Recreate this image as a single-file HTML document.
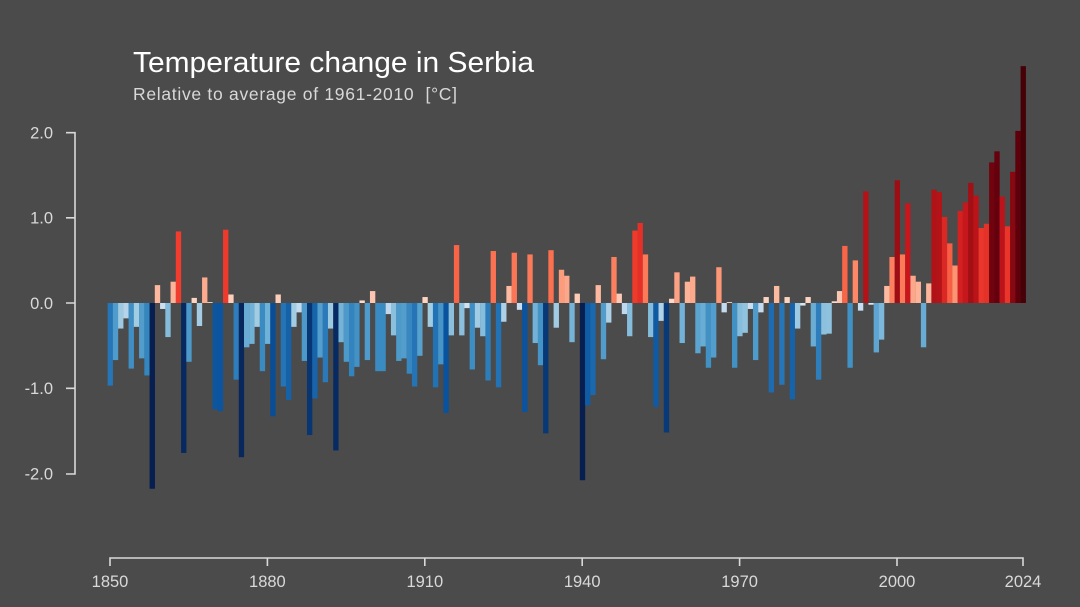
<!DOCTYPE html>
<html><head><meta charset="utf-8"><style>
html,body{margin:0;padding:0;background:#4b4b4b;}
svg{display:block;font-family:"Liberation Sans",sans-serif;}
</style></head><body>
<svg id="s" width="1080" height="607" viewBox="0 0 1080 607" xmlns="http://www.w3.org/2000/svg">
<rect width="1080" height="607" fill="#4b4b4b"/>
<text x="133" y="72" font-size="29" fill="#ffffff" textLength="401" lengthAdjust="spacingAndGlyphs">Temperature change in Serbia</text>
<text x="133" y="100" font-size="17.5" fill="#d8d8d8" textLength="324" lengthAdjust="spacing" xml:space="preserve">Relative to average of 1961-2010  [°C]</text>
<g id="bars"></g>
<g stroke="#d9d9d9" stroke-width="1.6" fill="none">
<path d="M66,132.7H75V474H66M66,217.8H75M66,303H75M66,388.3H75"/>
<path d="M110,566V558H1023V566M267.4,558V566M424.8,558V566M582.2,558V566M739.6,558V566M897,558V566"/>
</g>
<g font-size="16.5" fill="#d9d9d9" text-anchor="end">
<text x="53" y="138.5">2.0</text>
<text x="53" y="223.5">1.0</text>
<text x="53" y="309">0.0</text>
<text x="53" y="394">-1.0</text>
<text x="53" y="479.5">-2.0</text>
</g>
<g font-size="16.5" fill="#d9d9d9" text-anchor="middle">
<text x="110" y="587">1850</text>
<text x="267.4" y="587">1880</text>
<text x="424.8" y="587">1910</text>
<text x="582.2" y="587">1940</text>
<text x="739.6" y="587">1970</text>
<text x="897" y="587">2000</text>
<text x="1023" y="587">2024</text>
</g>
</svg>
<script>
var v=[-0.97,-0.67,-0.30,-0.18,-0.77,-0.28,-0.65,-0.85,-2.18,0.21,-0.07,-0.40,0.25,0.84,-1.76,-0.69,0.06,-0.27,0.30,0.01,-1.25,-1.27,0.86,0.10,-0.90,-1.81,-0.52,-0.48,-0.28,-0.80,-0.48,-1.33,0.10,-0.98,
-1.14,-0.28,-0.11,-0.68,-1.55,-1.12,-0.64,-0.93,-0.30,-1.73,-0.46,-0.69,-0.86,-0.75,0.03,-0.67,0.14,-0.80,-0.80,-0.13,-0.38,-0.68,-0.65,-0.83,-0.98,-0.62,0.07,-0.28,-0.99,-0.72,-1.29,-0.38,
0.68,-0.38,-0.06,-0.78,-0.29,-0.39,-0.91,0.61,-0.99,-0.22,0.20,0.59,-0.08,-1.28,0.57,-0.47,-0.73,-1.53,0.62,-0.29,0.39,0.32,-0.46,0.11,-2.08,-1.20,-1.08,0.21,-0.66,-0.23,0.54,0.11,-0.13,-0.39,
0.85,0.94,0.57,-0.40,-1.22,-0.21,-1.52,0.05,0.36,-0.47,0.25,0.31,-0.59,-0.51,-0.76,-0.64,0.42,-0.11,0.01,-0.76,-0.39,-0.35,-0.07,-0.67,-0.11,0.07,-1.05,0.20,-0.96,0.07,-1.13,-0.30,-0.03,0.07,
-0.51,-0.90,-0.37,-0.36,0.02,0.14,0.67,-0.76,0.50,-0.09,1.31,-0.02,-0.58,-0.43,0.20,0.54,1.44,0.57,1.17,0.32,0.25,-0.52,0.23,1.33,1.30,1.01,0.70,0.44,1.08,1.18,1.41,1.26,0.88,0.93,1.65,1.78,1.25,0.90,1.54,2.02,2.78];
var stops=[[-2.0,[6,30,80]],[-1.6,[8,48,107]],[-1.3,[8,81,156]],[-1.0,[33,113,181]],[-0.75,[66,146,198]],[-0.5,[107,174,214]],[-0.3,[158,202,225]],[-0.1,[198,219,239]],[0,[222,235,247]],[0.001,[254,224,210]],[0.2,[252,187,161]],[0.45,[252,146,114]],[0.65,[251,106,74]],[0.85,[239,59,44]],[1.15,[203,24,29]],[1.4,[165,15,21]],[1.7,[103,0,13]],[2.8,[70,0,8]]];
function col(x){if(x<=stops[0][0])return stops[0][1];for(var i=1;i<stops.length;i++){if(x<=stops[i][0]){var a=stops[i-1],b=stops[i],t=(x-a[0])/(b[0]-a[0]);return a[1].map(function(c,k){return Math.round(c+(b[1][k]-c)*t)});}}return stops[stops.length-1][1];}
var g=document.getElementById('bars'),h='';
for(var i=0;i<v.length;i++){var x=107.6+5.247*i,val=v[i],y=val>=0?303-val*85.2:303,hh=Math.max(Math.abs(val)*85.2,0.8);var c=col(val);
h+='<rect x="'+x.toFixed(2)+'" y="'+y.toFixed(2)+'" width="5.35" height="'+hh.toFixed(2)+'" fill="rgb('+c.join(',')+')"/>';}
g.innerHTML=h;
</script>
</body></html>
